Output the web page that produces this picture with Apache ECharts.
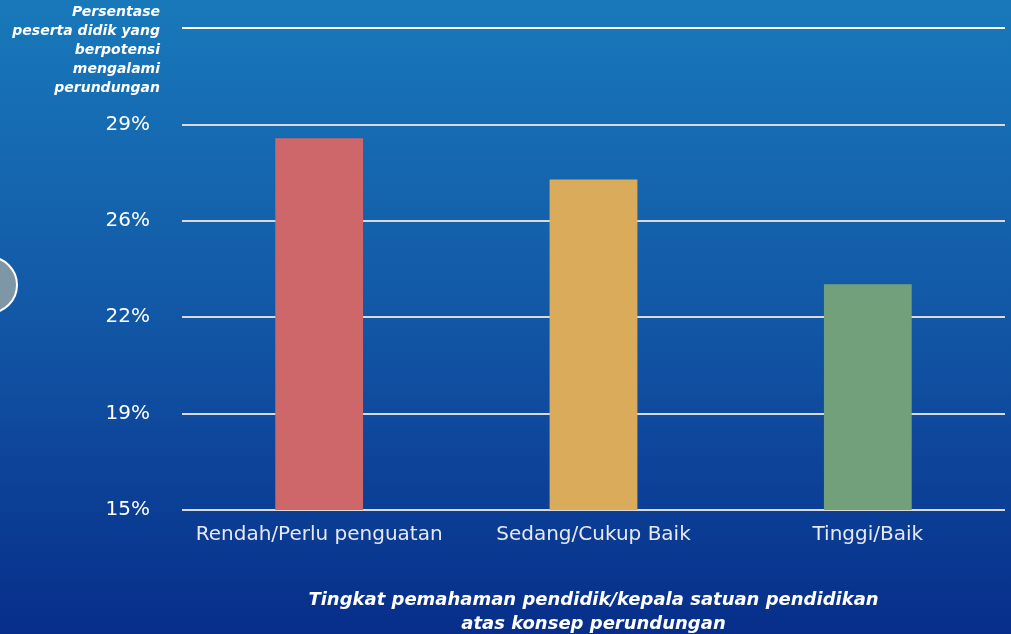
<!DOCTYPE html>
<html><head><meta charset="utf-8">
<script src="https://cdn.jsdelivr.net/npm/echarts@6/dist/echarts.min.js"></script>
<style>html,body{margin:0;padding:0;width:1011px;height:634px;overflow:hidden;}#c{width:1011px;height:634px;}</style>
</head><body><div id="c"></div>
<script>
var categories = ['Rendah/Perlu penguatan', 'Sedang/Cukup Baik', 'Tinggi/Baik'];
var values = [28.5, 27.0, 23.2];
var barColors = ['#cd6769', '#dbab5c', '#72a07a'];
var yTitle = 'Persentase\npeserta didik yang\nberpotensi\nmengalami\nperundungan';
var xTitle = 'Tingkat pemahaman pendidik/kepala satuan pendidikan\natas konsep perundungan';

var chart = echarts.init(document.getElementById('c'));
chart.setOption({
  backgroundColor: new echarts.graphic.LinearGradient(0, 0, 0, 1, [
    {offset: 0, color: '#1879ba'},
    {offset: 0.5, color: '#1257a6'},
    {offset: 1, color: '#072e8a'}
  ]),
  animation: false,
  grid: {left: 182, right: 6, top: 28, bottom: 124, outerBoundsMode: 'none', containLabel: false},
  xAxis: {
    type: 'category',
    data: categories,
    axisLine: {show: false},
    axisTick: {show: false},
    axisLabel: {color: '#e6e8f2', fontSize: 20, fontFamily: 'DejaVu Sans', margin: 15, interval: 0},
    name: xTitle,
    nameLocation: 'middle',
    nameGap: 78,
    nameTextStyle: {color: '#ffffff', fontSize: 18, fontStyle: 'italic', fontWeight: 'bold', fontFamily: 'DejaVu Sans', lineHeight: 24}
  },
  yAxis: {
    type: 'value',
    min: 15,
    max: 32.5,
    interval: 3.5,
    axisLine: {show: false},
    axisTick: {show: false},
    axisLabel: {
      color: '#ffffff', fontSize: 20, fontFamily: 'DejaVu Sans', margin: 32,
      formatter: function (v) { return v > 32 ? '' : Math.round(v) + '%'; }
    },
    splitLine: {lineStyle: {color: ['#d9d9d9', '#d9d9d9', '#d9d9d9', '#d9d9d9', '#d9d9d9', '#ffffff'], width: 2}}
  },
  series: [{
    type: 'bar',
    data: values.map(function (v, i) { return {value: v, itemStyle: {color: barColors[i]}}; }),
    barWidth: '32%'
  }],
  graphic: [
    {type: 'text', x: 160, y: 3, style: {text: yTitle, fill: '#ffffff', font: 'italic bold 14px "DejaVu Sans"', align: 'right', lineHeight: 19}},
    {type: 'circle', shape: {cx: -11, cy: 285, r: 28}, style: {fill: '#7f96a6', stroke: '#ffffff', lineWidth: 2}}
  ]
});
</script></body></html>
